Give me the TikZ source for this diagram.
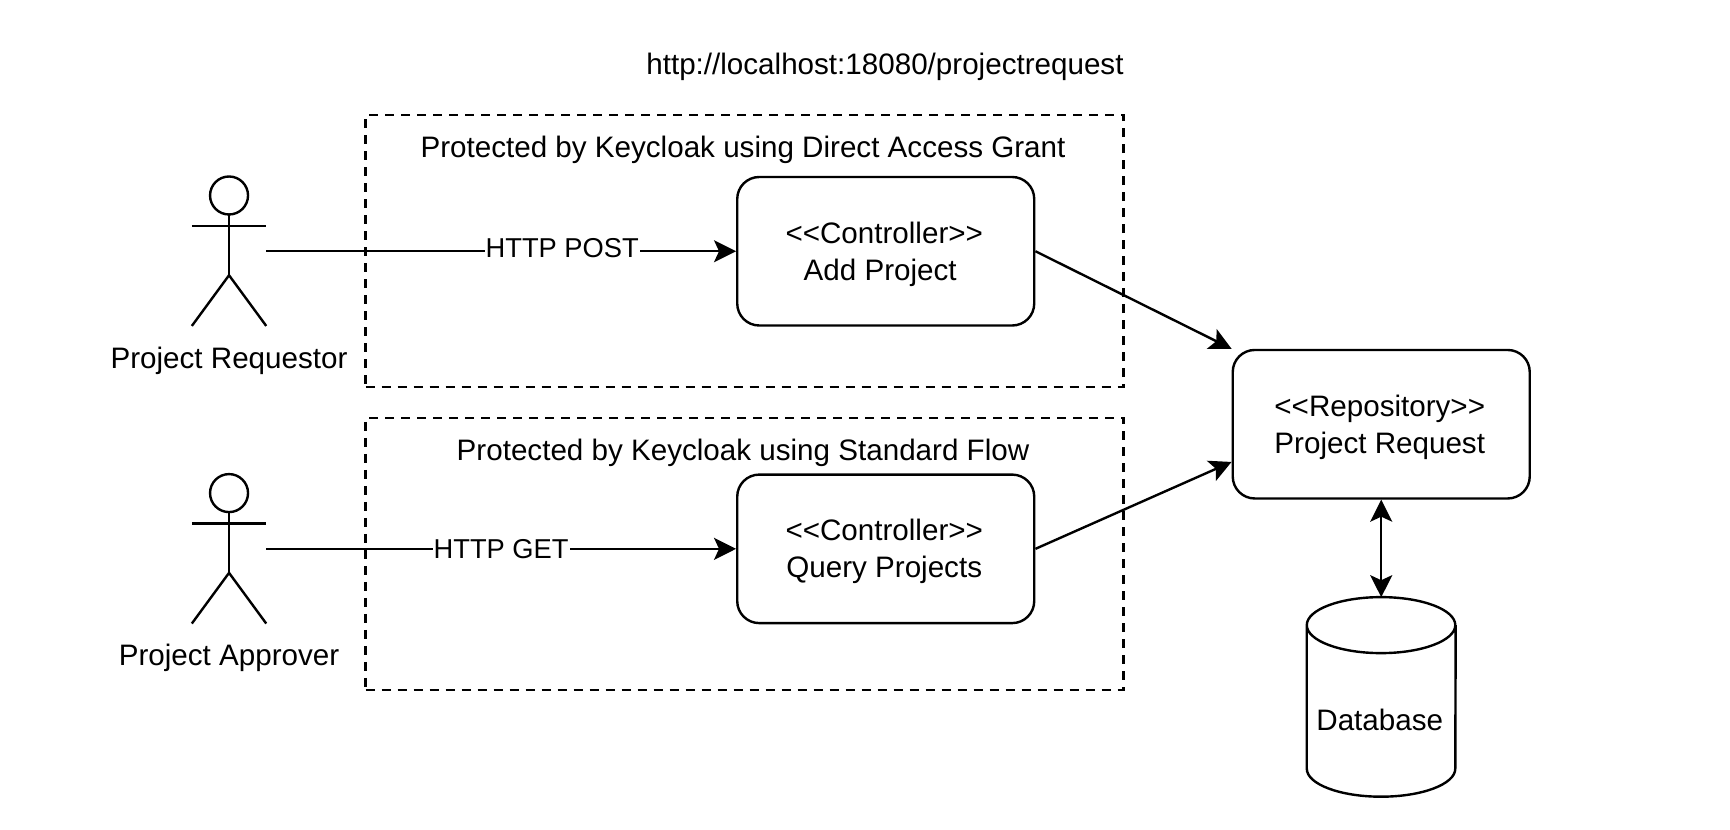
\documentclass[tikz,border=0pt]{standalone}
\usepackage{fontspec}
\setmainfont{Liberation Sans}
\usetikzlibrary{arrows.meta,calc}
\tikzset{
  line/.style={line width=2.4pt,draw=black},
  txt/.style={font=\fontsize{29.6}{37}\selectfont,inner sep=0pt,align=center,text=black},
  zone/.style={draw=black,line width=2.4pt,dash pattern=on 9pt off 7pt,minimum width=758pt,minimum height=272pt,inner sep=0pt},
  procbox/.style={txt,line,rounded corners=22pt,minimum width=297pt,minimum height=148.5pt,fill=white},
  actorbox/.style={minimum width=74pt,minimum height=149pt,inner sep=0pt},
  dbbox/.style={minimum width=148.5pt,minimum height=199pt,inner sep=0pt},
  conn/.style={line,-{Stealth[length=22pt,width=22pt,inset=5pt]}},
  biconn/.style={line,{Stealth[length=22pt,width=22pt,inset=5pt]}-{Stealth[length=22pt,width=22pt,inset=5pt]}},
  elabel/.style={txt,font=\fontsize{27.3}{34}\selectfont,fill=white,inner xsep=1pt,inner ysep=2pt},
}
\newcommand{\boxtext}[1]{\raisebox{-3pt}[\height][\depth]{\begin{tabular}{@{}c@{}}#1\end{tabular}}\rule{3pt}{0pt}}
\newcommand{\actorfig}[1]{%
  \draw[line] ($(#1.north)+(0,19)$) ellipse (19pt and 19pt);
  \draw[line] ($(#1.north)+(0,38)$) -- ($(#1.north)+(0,99)$);
  \draw[line] ($(#1.north west)+(0,49.5)$) -- ($(#1.north east)+(0,49.5)$);
  \draw[line] (#1.south west) -- ($(#1.north)+(0,99)$) -- (#1.south east);
}
\begin{document}
\begin{tikzpicture}[x=0.998pt,y=-0.997pt]
\useasboundingbox (0,0) rectangle (1733.47,832.5);
\fill[white] (0,0) rectangle (1733.47,832.5);
\node[txt,anchor=east] (url) at (1126,67) {http://localhost:18080/projectrequest};
\node[zone] (zone1) at (746,252) {};
\node[zone] (zone2) at (746,555.5) {};
\node[txt] (zone1t) at (744.5,150.5) {Protected by Keycloak using Direct Access Grant};
\node[txt] (zone2t) at (744.5,454) {Protected by Keycloak using Standard Flow};
\node[procbox] (add) at (887.5,252) {\boxtext{{<}{<}Controller{>}{>}\\Add Project\rule{8pt}{0pt}}};
\node[procbox] (query) at (887.5,550.5) {\boxtext{{<}{<}Controller{>}{>}\\Query Projects}};
\node[procbox] (repo) at (1384,425.5) {\boxtext{{<}{<}Repository{>}{>}\\Project Request}};
\node[actorbox] (req) at (229.5,252) {};
\node[actorbox] (appr) at (229.5,550.5) {};
\actorfig{req}
\actorfig{appr}
\node[txt] (reqt) at (229.5,361.5) {Project Requestor};
\node[txt] (apprt) at (229.5,660) {Project Approver};
\node[dbbox] (db) at (1384,699) {};
\draw[line,fill=white] ($(db.north west)+(0,28)$) arc[start angle=180,end angle=360,x radius=74.25pt,y radius=28pt]
  arc[start angle=0,end angle=180,x radius=74.25pt,y radius=28pt]
  -- ($(db.south west)+(0,-28)$) arc[start angle=180,end angle=360,x radius=74.25pt,y radius=28pt]
  -- ($(db.north east)+(0,28)$);
\node[txt] (dbt) at (1382.5,722) {Database};
\draw[conn] (req.east) -- node[elabel,pos=0.63,yshift=3pt] {HTTP POST} (add.west);
\draw[conn] (appr.east) -- node[elabel,pos=0.5] {HTTP GET} (query.west);
\draw[conn] (add.east) -- (repo.north west);
\draw[conn] (query.east) -- ($(repo.north west)!0.75!(repo.south west)$);
\draw[biconn] (repo.south) -- (db.north);
\end{tikzpicture}
\end{document}
